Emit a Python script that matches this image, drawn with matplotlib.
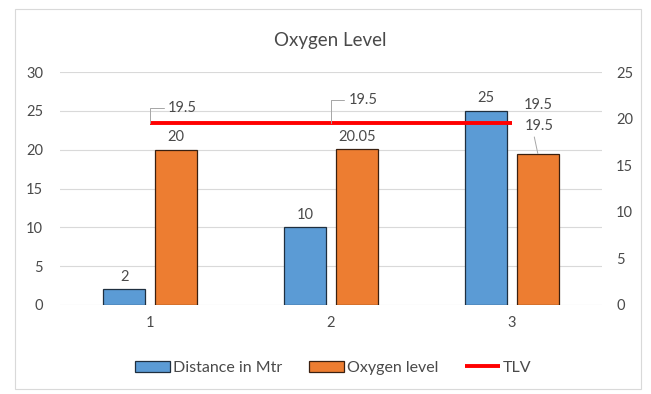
import matplotlib
matplotlib.use("Agg")
import matplotlib.pyplot as plt
from matplotlib.patches import Rectangle
import numpy as np

plt.rcParams['font.family'] = ['Lato', 'DejaVu Sans']

categories = ["1", "2", "3"]
distance = [2, 10, 25]
oxygen = [20, 20.05, 19.5]
tlv = [19.5, 19.5, 19.5]
left_ticks = [0, 5, 10, 15, 20, 25, 30]
right_ticks = [0, 5, 10, 15, 20, 25]

BLUE = "#5B9BD5"
ORANGE = "#ED7D31"
RED = "#FF0000"
TEXT = "#4A4A4A"
GRID = "#D9D9D9"
FS = 10.5

fig = plt.figure(figsize=(6.51, 3.94), dpi=100)
fig.patches.append(Rectangle((0.023, 0.012), 0.962, 0.966, transform=fig.transFigure,
                             fill=False, edgecolor="#D9D9D9", linewidth=0.8))

ax = fig.add_axes([0.092, 0.226, 0.833, 0.591])
ax2 = ax.twinx()

x = np.arange(1, len(categories) + 1)
w = 0.232
off = 0.144

b1 = ax.bar(x - off, distance, w, color=BLUE, edgecolor="#1F2F3F", linewidth=0.9,
            label="Distance in Mtr", zorder=3)
b2 = ax.bar(x + off, oxygen, w, color=ORANGE, edgecolor="#3A2010", linewidth=0.9,
            label="Oxygen level", zorder=3)
ln, = ax2.plot(x, tlv, color=RED, linewidth=2.8, label="TLV", solid_capstyle="butt")

ax.set_xlim(0.5, 3.5)
ax.set_ylim(0, 30)
ax2.set_ylim(0, 25)
ax.set_yticks(left_ticks)
ax2.set_yticks(right_ticks)
ax.set_xticks(x)
ax.set_xticklabels(categories)

for a in (ax, ax2):
    for s in a.spines.values():
        s.set_visible(False)
    a.tick_params(length=0, labelsize=FS, colors=TEXT)
ax.tick_params(axis="y", pad=12)
ax2.tick_params(axis="y", pad=10)
ax.tick_params(axis="x", pad=8)
ax.grid(axis="y", color=GRID, linewidth=0.8, zorder=0)
ax.set_axisbelow(True)

fig.text(0.507, 0.898, "Oxygen Level", ha="center", va="center", fontsize=13.5, color=TEXT)

# value labels on the bars
for xi, v in zip(x - off, distance):
    ax.annotate(f"{v:g}", (xi, v), xytext=(0, 4), textcoords="offset points",
                ha="center", va="bottom", fontsize=FS, color=TEXT)
for xi, v in zip(x[:2] + off, oxygen[:2]):
    ax.annotate(f"{v:g}", (xi, v), xytext=(0, 4), textcoords="offset points",
                ha="center", va="bottom", fontsize=FS, color=TEXT)

line_kw = dict(arrowstyle="-", color="#A6A6A6", lw=0.7, shrinkA=1, shrinkB=0)
# the third oxygen label is lifted above the TLV line with a leader
ax.annotate(f"{oxygen[2]:g}", (x[2] + off, oxygen[2]), xytext=(1, 20),
            textcoords="offset points", ha="center", va="center", fontsize=FS, color=TEXT,
            arrowprops=dict(line_kw, relpos=(0.3, 0.0)), zorder=6)

# TLV labels with leaders
tlv_offsets = [(23, 11), (23, 17), (19, 13)]
for i, (xi, v) in enumerate(zip(x, tlv)):
    if i < 2:
        ax2.annotate(f"{v:g}", (xi, v), xytext=tlv_offsets[i], textcoords="offset points",
                     ha="center", va="center", fontsize=FS, color=TEXT,
                     arrowprops=dict(line_kw, relpos=(0.0, 0.5),
                                     connectionstyle="angle,angleA=0,angleB=90,rad=0"))
    else:
        ax2.annotate(f"{v:g}", (xi, v), xytext=tlv_offsets[i], textcoords="offset points",
                     ha="center", va="center", fontsize=FS, color=TEXT)

fig.legend(handles=[b1, b2, ln], loc="center", bbox_to_anchor=(0.512, 0.066), ncol=3,
           frameon=False, fontsize=11.5, labelcolor=TEXT, handlelength=2.2,
           handleheight=0.75, handletextpad=0.15, columnspacing=1.7)

fig.savefig("out.png", dpi=100)
